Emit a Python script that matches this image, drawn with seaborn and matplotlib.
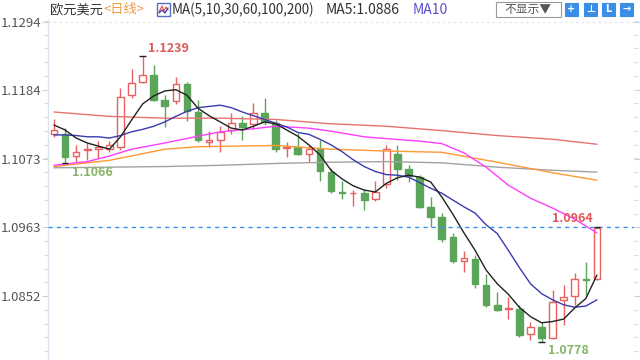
import matplotlib
matplotlib.use("Agg")
import matplotlib.pyplot as plt
from matplotlib.patches import Rectangle
from matplotlib.lines import Line2D
import seaborn as sns
import numpy as np
import pandas as pd

# ---------------- data ----------------
opens = [1.1113, 1.1113, 1.1078, 1.1088, 1.1089, 1.1089, 1.1093, 1.1176, 1.1197, 1.1208,
         1.1168, 1.1166, 1.1194, 1.1149, 1.1101, 1.1104, 1.1120, 1.1131, 1.1130, 1.1147,
         1.1132, 1.1091, 1.1093, 1.1082, 1.1090, 1.1053, 1.1020, 1.1018, 1.1018, 1.1008,
         1.1033, 1.1081, 1.1057, 1.1044, 1.0996, 1.0980, 1.0947, 1.0909, 1.0912, 1.0870,
         1.0838, 1.0832, 1.0832, 1.0791, 1.0802, 1.0784, 1.0845, 1.0852, 1.0879, 1.0879]
highs = [1.1138, 1.1123, 1.1096, 1.1099, 1.1102, 1.1102, 1.1187, 1.1218, 1.1239, 1.1225,
         1.1176, 1.1205, 1.1198, 1.1168, 1.1118, 1.1126, 1.1147, 1.1143, 1.1163, 1.1172,
         1.1136, 1.1101, 1.1115, 1.1095, 1.1104, 1.1059, 1.1037, 1.1023, 1.1025, 1.1037,
         1.1096, 1.1096, 1.1063, 1.1047, 1.1012, 1.0986, 1.0953, 1.0924, 1.0918, 1.0888,
         1.0859, 1.0850, 1.0838, 1.0811, 1.0810, 1.0862, 1.0870, 1.0889, 1.0907, 1.0964]
lows = [1.1109, 1.1066, 1.1068, 1.1071, 1.1074, 1.1084, 1.1088, 1.1171, 1.1195, 1.1166,
        1.1125, 1.1162, 1.1134, 1.1101, 1.1093, 1.1085, 1.1113, 1.1104, 1.1122, 1.1128,
        1.1085, 1.1077, 1.1080, 1.1069, 1.1037, 1.1018, 1.1009, 1.0998, 1.0991, 1.1006,
        1.1026, 1.1039, 1.1036, 1.0994, 1.0964, 1.0940, 1.0906, 1.0891, 1.0865, 1.0834,
        1.0828, 1.0815, 1.0786, 1.0782, 1.0778, 1.0783, 1.0805, 1.0838, 1.0854, 1.0878]
closes = [1.1120, 1.1077, 1.1085, 1.1090, 1.1093, 1.1095, 1.1174, 1.1195, 1.1208, 1.1169,
          1.1159, 1.1194, 1.1151, 1.1104, 1.1104, 1.1117, 1.1131, 1.1125, 1.1147, 1.1133,
          1.1090, 1.1093, 1.1081, 1.1090, 1.1054, 1.1022, 1.1018, 1.1019, 1.1007, 1.1020,
          1.1089, 1.1057, 1.1045, 1.0996, 1.0980, 1.0944, 1.0909, 1.0913, 1.0872, 1.0838,
          1.0830, 1.0833, 1.0790, 1.0802, 1.0784, 1.0843, 1.0850, 1.0879, 1.0878, 1.0962]

ma5 = [1.1128, 1.1120, 1.1107, 1.1099, 1.1094, 1.1089, 1.1109, 1.1136, 1.1162, 1.1175,
       1.1183, 1.1185, 1.1176, 1.1155, 1.1143, 1.1133, 1.1123, 1.1120, 1.1126, 1.1133,
       1.1130, 1.1120, 1.1110, 1.1096, 1.1080, 1.1055, 1.1041, 1.1030, 1.1023, 1.1020,
       1.1034, 1.1043, 1.1047, 1.1044, 1.1036, 1.1012, 1.0984, 1.0954, 1.0926, 1.0894,
       1.0872, 1.0855, 1.0834, 1.0819, 1.0809, 1.0811, 1.0815, 1.0833, 1.0848, 1.0886]
ma10 = [1.1112, 1.1112, 1.1111, 1.1109, 1.1109, 1.1107, 1.1111, 1.1117, 1.1121, 1.1126,
        1.1133, 1.1142, 1.1150, 1.1156, 1.1158, 1.1160, 1.1156, 1.1149, 1.1143, 1.1137,
        1.1131, 1.1125, 1.1116, 1.1113, 1.1105, 1.1096, 1.1085, 1.1072, 1.1061, 1.1053,
        1.1048, 1.1047, 1.1044, 1.1035, 1.1026, 1.1018, 1.1007, 1.0996, 1.0986, 1.0967,
        1.0953, 1.0926, 1.0898, 1.0872, 1.0856, 1.0846, 1.0838, 1.0834, 1.0836, 1.0846]
ma30_idx = [0, 5, 10, 15, 20, 25, 30, 35, 40, 45, 49]
ma30 = [1.1149, 1.1142, 1.1139, 1.1139, 1.1137, 1.1130, 1.1126, 1.1119, 1.1111, 1.1105, 1.1097]
ma60_idx = [0, 3, 5, 7, 10, 13, 15, 18, 20, 23, 25, 28, 30, 33, 35, 37, 39, 41, 43, 45, 47, 49]
ma60 = [1.1063, 1.1069, 1.1078, 1.1089, 1.1099, 1.1110, 1.1117, 1.1122, 1.1126, 1.1123, 1.1118,
        1.1109, 1.1106, 1.1102, 1.1098, 1.1083, 1.1060, 1.1031, 1.1010, 1.0994, 1.0976, 1.0954]
ma100_idx = [0, 5, 10, 13, 20, 25, 30, 35, 40, 45, 49]
ma100 = [1.1061, 1.1071, 1.1089, 1.1093, 1.1095, 1.1089, 1.1086, 1.1084, 1.1068, 1.1051, 1.1039]
ma200_idx = [0, 10, 15, 20, 25, 30, 35, 40, 45, 49]
ma200 = [1.1059, 1.1061, 1.1063, 1.1066, 1.1068, 1.1069, 1.1067, 1.1060, 1.1055, 1.1052]

yticks = [1.0852, 1.0963, 1.1073, 1.1184, 1.1294]
ytick_labels = ["1.0852", "1.0963", "1.1073", "1.1184", "1.1294"]
last_price = 1.0963

# ---------------- style ----------------
sns.set_theme(style="white")
plt.rcParams['font.family'] = ['Noto Sans CJK SC', 'DejaVu Sans']

RED = "#e8605f"
GREEN = "#5aa55a"

W, H = 640, 360
fig = plt.figure(figsize=(6.4, 3.6), dpi=100)
fig.patch.set_facecolor("white")
ax_left, ax_right, ax_top = 48, 634, 20
ax = fig.add_axes([ax_left / W, 0, (ax_right - ax_left) / W, (H - ax_top) / H])
ax.set_facecolor("white")

# ---------------- candles ----------------
x = np.arange(len(opens))
o = np.array(opens); c = np.array(closes); h = np.array(highs); l = np.array(lows)
up = c >= o
dn = ~up
ax.vlines(x[up], l[up], h[up], color=RED, lw=1, zorder=2)
ax.vlines(x[dn], l[dn], h[dn], color=GREEN, lw=1, zorder=2)
minh = 0.00007
ax.bar(x[up], np.maximum(c - o, minh)[up], bottom=o[up], width=0.6,
       facecolor="white", edgecolor=RED, linewidth=1, zorder=3)
ax.bar(x[dn], np.maximum(o - c, minh)[dn], bottom=c[dn], width=0.6,
       facecolor=GREEN, edgecolor=GREEN, linewidth=1, zorder=3)

# ---------------- moving averages ----------------
ma_specs = [
    (ma200_idx, ma200, "#a3a3a3"),
    (ma100_idx, ma100, "#ff9933"),
    (ma60_idx, ma60, "#ff3dff"),
    (ma30_idx, ma30, "#e8736e"),
    (list(x), ma10, "#3b3bb0"),
    (list(x), ma5, "#222222"),
]
for idx, vals, col in ma_specs:
    df = pd.DataFrame({"i": idx, "v": vals})
    sns.lineplot(data=df, x="i", y="v", ax=ax, color=col, lw=1.0,
                 estimator=None, sort=False, zorder=4)

# current price line and top gridline
ax.axhline(last_price, color="#3b8ff0", lw=1, ls=(0, (3, 3)), zorder=5)
ax.axhline(yticks[-1], color="#e2e2e2", lw=0.8, ls=(0, (2, 3)), zorder=1)

# extreme markers and labels
i_hi = int(np.argmax(h)); i_lo = int(np.argmin(l))
i_lo0 = int(np.argmin(l[:10]))
for i, v in [(i_hi, h[i_hi]), (i_lo, l[i_lo]), (i_lo0, l[i_lo0]), (len(h) - 1, h[-1])]:
    ax.hlines(v, i - 0.3, i + 0.3, color="#222222", lw=1, zorder=6)
ax.text(i_hi + 0.5, h[i_hi] + 0.0013, f"{h[i_hi]:.4f}", color="#e05a5a",
        fontsize=9, fontweight="bold", ha="left", va="center", zorder=7)
ax.text(i_lo0 + 0.6, l[i_lo0] - 0.0014, f"{l[i_lo0]:.4f}", color="#86b468",
        fontsize=9, fontweight="bold", ha="left", va="center", zorder=7)
ax.text(i_lo + 0.6, l[i_lo] - 0.0013, f"{l[i_lo]:.4f}", color="#86b468",
        fontsize=9, fontweight="bold", ha="left", va="center", zorder=7)
ax.text(len(h) - 1 - 0.35, h[-1] + 0.0014, f"{h[-1]:.4f}", color="#e05a5a",
        fontsize=9, fontweight="bold", ha="right", va="center", zorder=7)

# ---------------- axes ----------------
ax.set_xlim(-6 / 11.08, (ax_right - 54) / 11.08)
ax.set_ylim(last_price - (H - 227.3) / 6199, last_price + (227.3 - ax_top) / 6199)
ax.set_xticks([])
ax.set_yticks(yticks)
ax.set_yticklabels(ytick_labels)
step = (yticks[1] - yticks[0]) / 5
minors = np.arange(yticks[0] - 4 * step, yticks[-1] + step, step)
ax.set_yticks(minors, minor=True)
ax.yaxis.set_ticks_position("both")
ax.tick_params(axis="y", which="major", length=4, width=0.8, color="#c9d3e0",
               labelcolor="#555555", labelsize=9.5, pad=1, labelright=False)
ax.tick_params(axis="y", which="minor", length=3, width=0.8, color="#d5dce6")
ax.tick_params(axis="y", which="both", right=True, direction="out")
for s in ["top", "bottom", "right"]:
    ax.spines[s].set_visible(False)
ax.spines["left"].set_color("#dbe3ee")
ax.spines["left"].set_linewidth(1)
ax.set_xlabel(""); ax.set_ylabel("")
ax.grid(False)

# ---------------- header ----------------
def fx(px):
    return px / W

def fy(py):
    return 1 - py / H

ty = fy(10)
fig.text(fx(50), ty, "欧元美元", fontsize=9.5, color="#333333", va="center", ha="left")
fig.text(fx(103), ty, "<日线>", fontsize=9.5, color="#f39a3d", va="center", ha="left")
fig.add_artist(Rectangle((fx(157), fy(16)), 13 / W, 13 / H, transform=fig.transFigure,
                         facecolor="white", edgecolor="#5470c6", lw=1))
fig.add_artist(Line2D([fx(159), fx(162), fx(164), fx(166), fx(168)],
                      [fy(12), fy(6), fy(11), fy(7), fy(10)],
                      transform=fig.transFigure, color="#e05a5a", lw=0.9))
fig.add_artist(Line2D([fx(159), fx(162), fx(165), fx(168)],
                      [fy(13), fy(10), fy(13), fy(8)],
                      transform=fig.transFigure, color="#3b3bb0", lw=0.9))
fig.text(fx(172), ty, "MA(5,10,30,60,100,200)", fontsize=9.7, color="#333333", va="center", ha="left")
fig.text(fx(326), ty, f"MA5:{ma5[-1]:.4f}", fontsize=10, color="#333333", va="center", ha="left")
fig.text(fx(413), ty, "MA10", fontsize=10, color="#5a4fcf", va="center", ha="left")

fig.add_artist(Rectangle((fx(496), fy(17)), 65 / W, 15 / H, transform=fig.transFigure,
                         facecolor="white", edgecolor="#9a9a9a", lw=0.8))
fig.text(fx(528), fy(9.5), "不显示▼", fontsize=8.5, color="#555555", va="center", ha="center")

icon_x = [565, 584, 602, 620]
icon_sym = ["+", "⊥", "L", "→"]
for ix, sym in zip(icon_x, icon_sym):
    fig.add_artist(Rectangle((fx(ix), fy(16)), 13 / W, 13 / H, transform=fig.transFigure,
                             facecolor="#3a8ee6", edgecolor="#3a8ee6", lw=0.8))
    fig.text(fx(ix + 6.5), fy(9.5), sym, fontsize=7, color="white", va="center",
             ha="center", fontweight="bold", family=["DejaVu Sans"])

fig.savefig("out.png", dpi=100, facecolor="white")
